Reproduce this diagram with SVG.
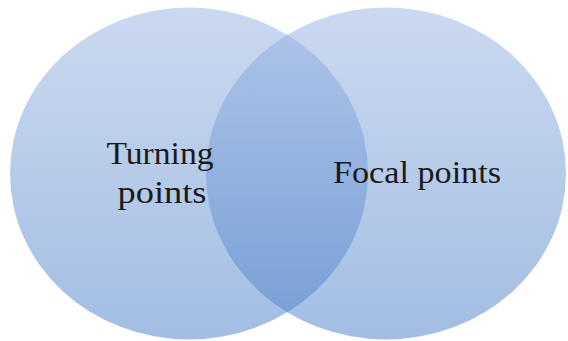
<svg xmlns="http://www.w3.org/2000/svg" width="568" height="341" viewBox="0 0 568 341">
  <defs>
    <linearGradient id="g" x1="0" y1="0" x2="0" y2="1">
      <stop offset="0" stop-color="#97b3e1"/>
      <stop offset="1" stop-color="#477dc7"/>
    </linearGradient>
  </defs>
  <style>
    .c { fill: url(#g); fill-opacity: 0.5; }
    .t { font-family: "Liberation Serif", "DejaVu Serif", serif; font-size: 32px; fill: #1a1a1a; text-anchor: middle; }
  </style>
  <rect width="568" height="341" fill="#ffffff"/>
  <g id="turning">
    <ellipse class="c" cx="189" cy="173.5" rx="179" ry="166"/>
  </g>
  <g id="focal">
    <ellipse class="c" cx="386" cy="173.5" rx="180" ry="166"/>
  </g>
  <g id="labels">
    <text class="t" x="160" y="164" textLength="107" lengthAdjust="spacingAndGlyphs">Turning</text>
    <text class="t" x="162" y="203" textLength="89" lengthAdjust="spacingAndGlyphs">points</text>
    <text class="t" x="417" y="183" textLength="168" lengthAdjust="spacingAndGlyphs">Focal points</text>
  </g>
</svg>
